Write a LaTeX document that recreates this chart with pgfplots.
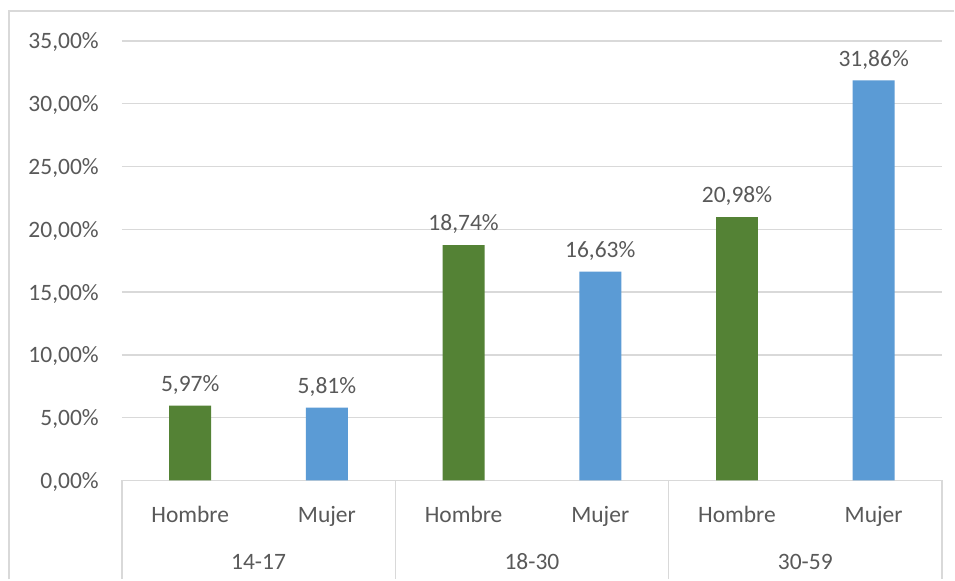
\documentclass[border=0pt]{standalone}
\usepackage{fontspec}
\setmainfont{Carlito}
\usepackage{pgfplots}
\pgfplotsset{compat=1.18}
\definecolor{verde}{HTML}{548235}
\definecolor{azul}{HTML}{5B9BD5}
\definecolor{rejilla}{HTML}{D9D9D9}
\definecolor{texto}{HTML}{595959}
\newcommand{\fuente}{\fontsize{23.5}{28}\selectfont}
\begin{document}
\begin{tikzpicture}
% fondo = tamaño de la imagen (1px = 1pt), origen en la esquina inferior izquierda del área de trazado
\fill[white] (-122pt,-99pt) rectangle (833pt,481pt);
\draw[rejilla, line width=2pt] (-113pt,-99pt) |- (833pt,470pt);
\begin{axis}[
  scale only axis, width=821pt, height=440pt,
  xmin=-0.5, xmax=5.5, ymin=0, ymax=35,
  axis x line*=bottom, axis y line*=left,
  axis line style={draw=none},
  major tick length=0pt, tick style={draw=none},
  ymajorgrids, grid style={rejilla, line width=1.4pt},
  ytick={0,5,...,35},
  yticklabels={{0,00\%},{5,00\%},{10,00\%},{15,00\%},{20,00\%},{25,00\%},{30,00\%},{35,00\%}},
  xtick={0,...,5},
  xticklabels={Hombre,Mujer,Hombre,Mujer,Hombre,Mujer},
  /pgf/number format/assume math mode=true,
  tick label style={font=\fuente, text=texto},
  yticklabel style={anchor=east, inner sep=0pt, text depth=0pt, xshift=-23pt},
  xticklabel style={anchor=base, inner sep=0pt, yshift=-42pt},
  ybar, bar width=42pt, bar shift=0pt,
  nodes near coords={\pgfmathprintnumber[fixed,fixed zerofill,precision=2,use comma]{\pgfplotspointmeta}\%},
  nodes near coords style={font=\fuente, text=texto, anchor=south, inner sep=0pt, text depth=0pt, yshift=14pt},
  clip=false,
]
\addplot[fill=verde, draw=none] coordinates {(0,5.97) (2,18.74) (4,20.98)};
\addplot[fill=azul, draw=none] coordinates {(1,5.81) (3,16.63) (5,31.86)};
\foreach \s in {-0.5,1.5,3.5,5.5}{
  \edef\tmp{\noexpand\draw[rejilla, line width=1.4pt] (axis cs:\s,0) -- ([yshift=-99pt]axis cs:\s,0);}\tmp
}
\node[anchor=base, font=\fuente, text=texto] at ([yshift=-89pt]axis cs:0.5,0) {14-17};
\node[anchor=base, font=\fuente, text=texto] at ([yshift=-89pt]axis cs:2.5,0) {18-30};
\node[anchor=base, font=\fuente, text=texto] at ([yshift=-89pt]axis cs:4.5,0) {30-59};
\end{axis}
\end{tikzpicture}
\end{document}
